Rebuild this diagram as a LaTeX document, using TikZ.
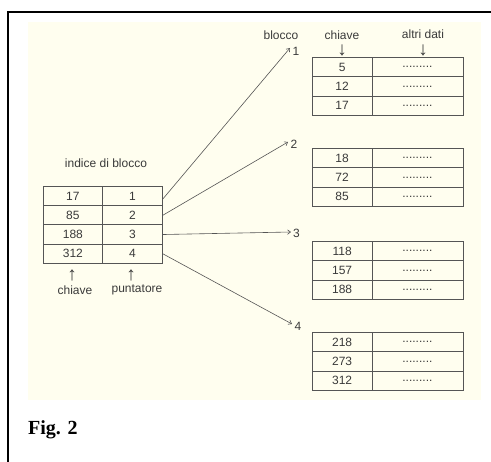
\documentclass[tikz,border=0pt]{standalone}
\usepackage{fontspec}
\setmainfont{Liberation Sans}
\newfontfamily\figfont{Liberation Serif}
\usetikzlibrary{arrows.meta}
\definecolor{cream}{HTML}{FFFEEF}
\definecolor{ink}{HTML}{3A3A3A}
\definecolor{rule}{HTML}{555555}
\tikzset{
  lbl/.style={font=\fontsize{12}{14}\selectfont, text=ink, inner sep=0pt},
  arr/.style={font=\fontsize{19}{20}\selectfont, text=ink, inner sep=0pt},
  cellbox/.style={draw=rule, line width=0.8pt, inner sep=0pt, anchor=north west,
    font=\fontsize{12}{14}\selectfont, text=ink},
  keycell/.style={cellbox, minimum width=59.5pt, minimum height=19.3pt},
  datacell/.style={cellbox, minimum width=91pt, minimum height=19.3pt},
  ikey/.style={cellbox, minimum width=59pt, minimum height=19.25pt},
  iptr/.style={cellbox, minimum width=60pt, minimum height=19.25pt},
  link/.style={draw=rule, line width=0.6pt, -{Straight Barb[length=3pt,width=4.5pt]}},
}
\begin{document}
\begin{tikzpicture}[x=1pt,y=-1pt]
\useasboundingbox (0,0) rectangle (491,462);
% background and frame
\fill[cream] (28,22) rectangle (481,400);
\draw[black, line width=2pt] (8,462) -- (8,12) -- (492,12);

% index table
\node[lbl] (title) at (106,163) {indice di blocco};
\foreach \k/\p [count=\i] in {17/1,85/2,188/3,312/4}{
  \node[ikey] (k\i) at (43,{186+(\i-1)*19.25}) {\k};
  \node[iptr] (p\i) at (102,{186+(\i-1)*19.25}) {\p};
}
\node[arr] (upk) at (72,275) {↑};
\node[arr] (upp) at (131,275) {↑};
\node[lbl] (chk) at (75,290) {chiave};
\node[lbl] (pnt) at (137,290) {puntatore};

% headers of the blocks
\node[lbl] (blocco) at (281,35) {blocco};
\node[lbl] (chiave) at (342,35) {chiave};
\node[lbl] (altri) at (423,34) {altri dati};
\node[arr] (dk) at (342,50) {↓};
\node[arr] (dd) at (423,50) {↓};

% data blocks
\foreach \top/\a/\b/\c [count=\j] in {57/5/12/17, 148/18/72/85, 241/118/157/188, 332/218/273/312}{
  \foreach \v [count=\r] in {\a,\b,\c}{
    \node[keycell] (b\j k\r) at (312,{\top+(\r-1)*19.3}) {\v};
    \node[datacell] (b\j d\r) at (371.5,{\top+(\r-1)*19.3}) {\raisebox{-1.5pt}{.........}};
  }
}

% block numbers and arrow tips
\coordinate (t1) at (290,48);
\coordinate (t2) at (288,142);
\coordinate (t3) at (291,232);
\coordinate (t4) at (292,324);
\node[lbl, anchor=west] (n1) at (292.5,51.5) {1};
\node[lbl, anchor=west] (n2) at (290.5,144) {2};
\node[lbl, anchor=west] (n3) at (293,233.5) {3};
\node[lbl, anchor=west] (n4) at (294.5,326) {4};

% connectors
\draw[link] ([yshift=-3pt]p1.east) -- (t1);
\draw[link] (p2.east) -- (t2);
\draw[link] (p3.east) -- (t3);
\draw[link] (p4.east) -- (t4);

% caption
\node[anchor=base west, inner sep=0pt, font=\figfont\bfseries\fontsize{20}{22}\selectfont] (fig) at (28,435) {Fig. 2};
\end{tikzpicture}
\end{document}
